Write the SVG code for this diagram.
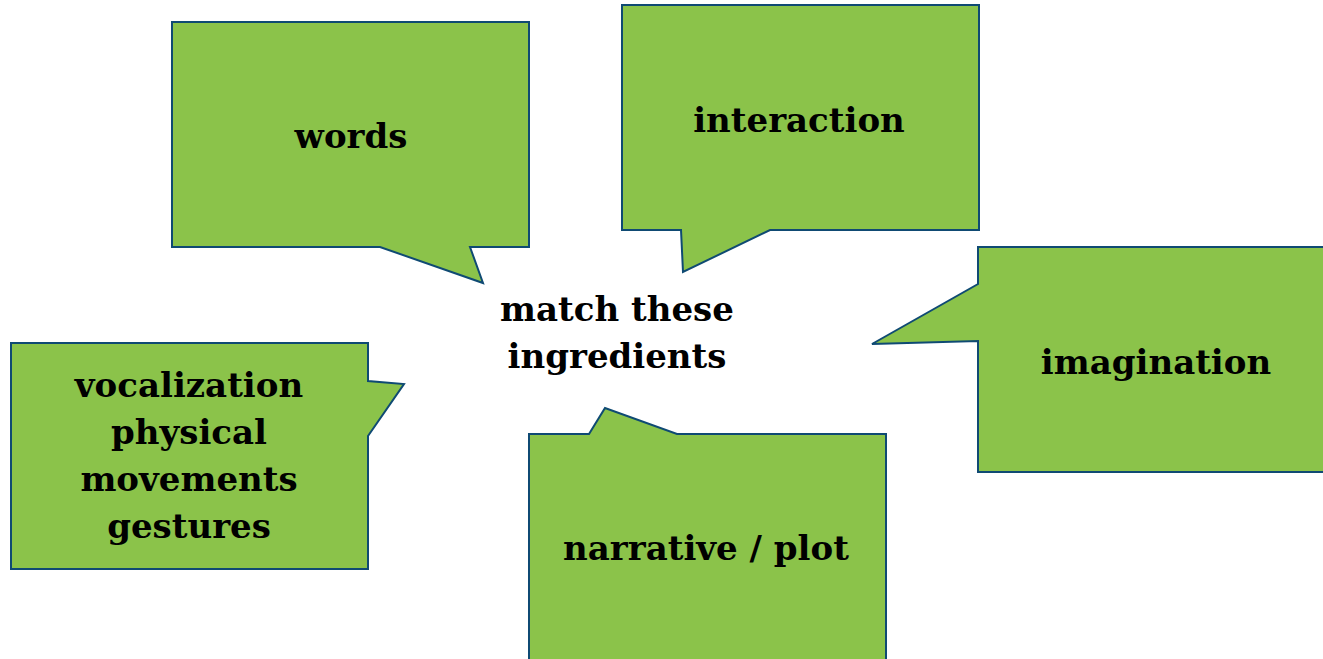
<svg xmlns="http://www.w3.org/2000/svg" width="1323" height="659" viewBox="0 0 1323 659">
  <style>
    .bubble { fill: #8bc34a; stroke: #0f4a73; stroke-width: 2; stroke-linejoin: miter; }
    .label { font-family: "DejaVu Serif", "Liberation Serif", serif; font-weight: bold; font-size: 34px; fill: #000; text-anchor: middle; }
  </style>
  <rect width="1323" height="659" fill="#ffffff"/>

  <g id="words">
    <path class="bubble" d="M172,22 H529 V247 H470 L483,283 L380,247 H172 Z"/>
    <text class="label" x="351" y="148">words</text>
  </g>

  <g id="interaction">
    <path class="bubble" d="M622,5 H979 V230 H770 L683,272 L681,230 H622 Z"/>
    <text class="label" x="799" y="132">interaction</text>
  </g>

  <g id="imagination">
    <path class="bubble" d="M978,247 H1330 V472 H978 V341 L872,344 L978,284 Z"/>
    <text class="label" x="1156" y="374">imagination</text>
  </g>

  <g id="expression">
    <path class="bubble" d="M11,343 H368 V381 L404,384 L368,436 V569 H11 Z"/>
    <text class="label" x="189" y="397">vocalization</text>
    <text class="label" x="189" y="444">physical</text>
    <text class="label" x="189" y="491">movements</text>
    <text class="label" x="189" y="538">gestures</text>
  </g>

  <g id="narrative">
    <path class="bubble" d="M529,434 H589 L605,408 L677,434 H886 V665 H529 Z"/>
    <text class="label" x="706" y="560">narrative / plot</text>
  </g>

  <g id="center">
    <text class="label" x="617" y="321">match these</text>
    <text class="label" x="617" y="368">ingredients</text>
  </g>

  <g id="connectors"/>
</svg>
